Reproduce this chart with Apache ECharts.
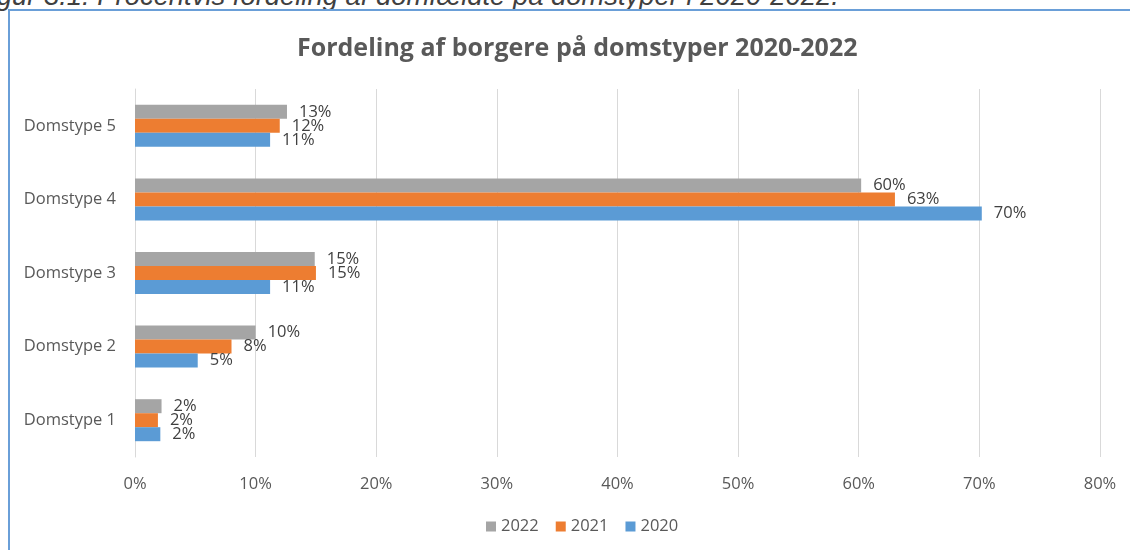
<!DOCTYPE html>
<html lang="da">
<head>
  <meta charset="UTF-8">
  <script type="text/javascript" src="https://cdn.jsdelivr.net/npm/echarts@6/dist/echarts.min.js"></script>
  <title>Fordeling af borgere på domstyper</title>
  <style>
    html, body {
      margin: 0;
      padding: 0;
      width: 1130px;
      height: 550px;
      overflow: hidden;
      background: #fff;
    }
    #caption {
      position: absolute;
      left: -26px;
      top: -18px;
      font-family: "Liberation Sans", Arial, sans-serif;
      font-style: italic;
      font-size: 27.4px;
      line-height: 27px;
      color: #404040;
      white-space: nowrap;
    }
    #frame {
      position: absolute;
      left: 8px;
      top: 9px;
      width: 1200px;
      height: 600px;
      border-left: 2px solid #6a9fd8;
      border-top: 2px solid #6a9fd8;
    }
    #chart {
      position: absolute;
      left: 0;
      top: 0;
      width: 1130px;
      height: 550px;
    }
  </style>
</head>
<body>
  <div id="caption">Figur 3.1: Procentvis fordeling af domfældte på domstyper i 2020-2022.</div>
  <div id="frame"></div>
  <div id="chart"></div>
  <script>
    // data (andele, 0-1)
    const categories = ['Domstype 1', 'Domstype 2', 'Domstype 3', 'Domstype 4', 'Domstype 5'];
    const values2020 = [0.021, 0.052, 0.112, 0.702, 0.112];
    const values2021 = [0.019, 0.080, 0.150, 0.630, 0.120];
    const values2022 = [0.022, 0.100, 0.149, 0.602, 0.126];
    const xTicks = [0, 0.1, 0.2, 0.3, 0.4, 0.5, 0.6, 0.7, 0.8];

    const font = '"Open Sans", "Liberation Sans", sans-serif';
    const pct = v => Math.round(v * 100) + '%';

    function makeSeries(name, data, color) {
      return {
        name: name,
        type: 'bar',
        data: data,
        barWidth: 14,
        barGap: '0%',
        itemStyle: { color: color },
        label: {
          show: true,
          position: 'right',
          distance: 12,
          color: '#404040',
          fontFamily: font,
          fontSize: 16.5,
          formatter: p => pct(p.value)
        }
      };
    }

    let chart = echarts.init(document.getElementById('chart'));
    chart.setOption({
      animation: false,
      title: {
        text: 'Fordeling af borgere på domstyper 2020-2022',
        left: 292,
        top: 31,
        textStyle: { fontFamily: font, fontSize: 25, fontWeight: 'bold', color: '#595959' }
      },
      legend: {
        data: ['2022', '2021', '2020'],
        top: 513,
        left: 481,
        icon: 'rect',
        itemWidth: 10,
        itemHeight: 10,
        itemGap: 17,
        textStyle: { fontFamily: font, fontSize: 16.5, color: '#595959' }
      },
      grid: { left: 135, right: 30, top: 89, bottom: 93 },
      xAxis: {
        type: 'value',
        min: xTicks[0],
        max: xTicks[xTicks.length - 1],
        interval: 0.1,
        axisLine: { show: false },
        axisTick: { show: false },
        splitLine: { lineStyle: { color: '#d9d9d9', width: 1 } },
        axisLabel: { formatter: v => pct(v), fontFamily: font, fontSize: 16.5, color: '#595959', margin: 19 }
      },
      yAxis: {
        type: 'category',
        data: categories,
        axisLine: { show: true, lineStyle: { color: '#d9d9d9' } },
        axisTick: { show: false },
        axisLabel: { fontFamily: font, fontSize: 16.5, color: '#595959', margin: 19 }
      },
      // første serie tegnes øverst i hver gruppe
      series: [
        makeSeries('2022', values2022, '#a5a5a5'),
        makeSeries('2021', values2021, '#ed7d31'),
        makeSeries('2020', values2020, '#5b9bd5')
      ]
    });
  </script>
</body>
</html>
